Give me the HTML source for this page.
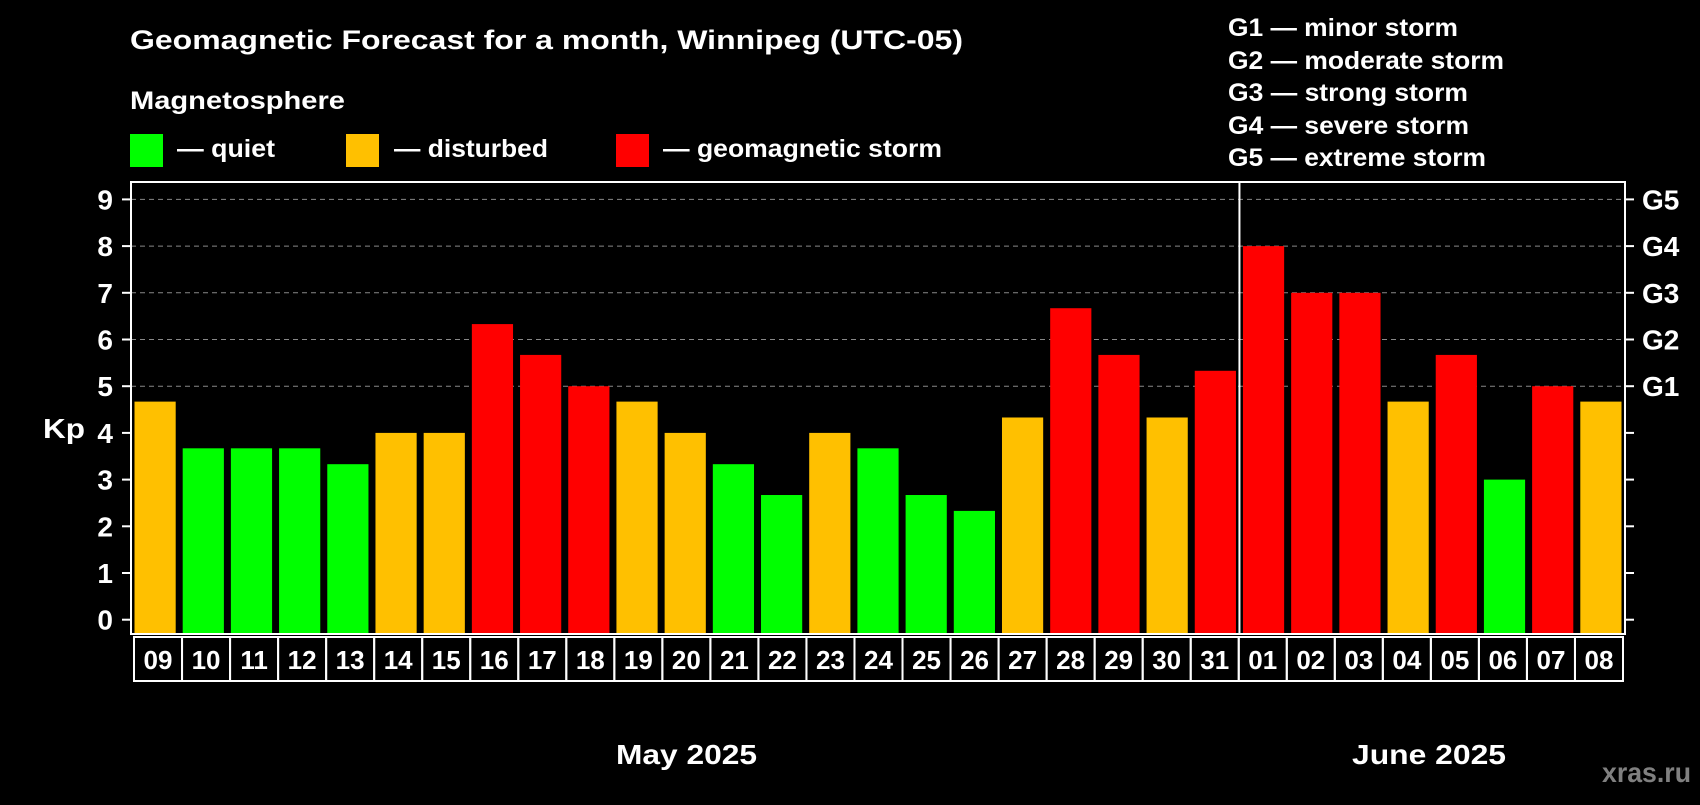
<!DOCTYPE html>
<html><head><meta charset="utf-8"><style>
html,body{margin:0;padding:0;background:#000;}
svg text{font-family:"Liberation Sans",Arial,sans-serif;font-weight:bold;fill:#fff;}
</style></head><body>
<svg id="chart" width="1700" height="800" xmlns="http://www.w3.org/2000/svg">
<rect width="1700" height="800" fill="#000"/>
<text x="130" y="49" font-size="27" textLength="833" lengthAdjust="spacingAndGlyphs">Geomagnetic Forecast for a month, Winnipeg (UTC-05)</text>
<text x="130" y="109" font-size="25" textLength="215" lengthAdjust="spacingAndGlyphs">Magnetosphere</text>
<g><rect x="130" y="134" width="33" height="33" fill="#00ff00"/><text x="177" y="157" font-size="25" textLength="98" lengthAdjust="spacingAndGlyphs">— quiet</text></g>
<g><rect x="346" y="134" width="33" height="33" fill="#ffc000"/><text x="394" y="157" font-size="25" textLength="154" lengthAdjust="spacingAndGlyphs">— disturbed</text></g>
<g><rect x="616" y="134" width="33" height="33" fill="#ff0000"/><text x="663" y="157" font-size="25" textLength="279" lengthAdjust="spacingAndGlyphs">— geomagnetic storm</text></g>
<g font-size="25">
<text x="1228" y="36" textLength="230" lengthAdjust="spacingAndGlyphs">G1 — minor storm</text>
<text x="1228" y="69" textLength="276" lengthAdjust="spacingAndGlyphs">G2 — moderate storm</text>
<text x="1228" y="101" textLength="240" lengthAdjust="spacingAndGlyphs">G3 — strong storm</text>
<text x="1228" y="134" textLength="241" lengthAdjust="spacingAndGlyphs">G4 — severe storm</text>
<text x="1228" y="166" textLength="258" lengthAdjust="spacingAndGlyphs">G5 — extreme storm</text>
</g>
<g id="grid"></g><g id="bars"></g><g id="axes"></g>
<text x="43" y="438" font-size="28" textLength="42" lengthAdjust="spacingAndGlyphs">Kp</text>
<text x="616" y="764" font-size="28" textLength="141" lengthAdjust="spacingAndGlyphs">May 2025</text>
<text x="1352" y="764" font-size="28" textLength="154" lengthAdjust="spacingAndGlyphs">June 2025</text>
<text x="1602" y="782" font-size="28" textLength="89" lengthAdjust="spacingAndGlyphs" style="fill:#808080">xras.ru</text>
</svg>
<script>
const days=["09","10","11","12","13","14","15","16","17","18","19","20","21","22","23","24","25","26","27","28","29","30","31","01","02","03","04","05","06","07","08"];
const kp=[4.67,3.67,3.67,3.67,3.33,4,4,6.33,5.67,5,4.67,4,3.33,2.67,4,3.67,2.67,2.33,4.33,6.67,5.67,4.33,5.33,8,7,7,4.67,5.67,3,5,4.67];
const yTicks=[0,1,2,3,4,5,6,7,8,9];
const gLabels=["G1","G2","G3","G4","G5"];
const gLevels=[5,6,7,8,9];
const monthSplitIndex=23;
const NS="http://www.w3.org/2000/svg";
const L=131,R=1625,T=182,B=634;
const slot=(R-L)/days.length;
const BL=134,BR=1623,bslot=(BR-BL)/days.length;
function y(v){return 619.7-46.7*v;}
function x(i){return L+i*slot;}
function mk(t,a,p){const e=document.createElementNS(NS,t);for(const k in a)e.setAttribute(k,a[k]);p.appendChild(e);return e;}
const grid=document.getElementById('grid'),bars=document.getElementById('bars'),axes=document.getElementById('axes');
yTicks.forEach(v=>{
 if(v>=5){const g=mk('line',{x1:L,x2:R,y1:y(v),y2:y(v),stroke:'#888','stroke-width':1,'stroke-dasharray':'5,4'},grid);
 
 }
 const t=mk('line',{x1:122,x2:L,y1:y(v),y2:y(v),stroke:'#fff','stroke-width':2},axes);
 
 
 const t2=mk('line',{x1:R,x2:1634,y1:y(v),y2:y(v),stroke:'#fff','stroke-width':2},axes);
 
 
 const lb=mk('text',{x:113,y:y(v)+10,'font-size':28,'text-anchor':'end'},axes);lb.textContent=v;
 
 
});
gLevels.forEach((v,i)=>{const lb=mk('text',{x:1642,y:y(v)+10,'font-size':28},axes);lb.textContent=gLabels[i];
 
 });
kp.forEach((v,i)=>{
 const c=v<4?'#00ff00':(v<5?'#ffc000':'#ff0000');
 const b=mk('rect',{x:x(i)+3.5,y:y(v),width:slot-7,height:B-y(v),fill:c},bars);
 
 
 const bx=mk('rect',{x:BL+i*bslot,y:637,width:bslot,height:44,fill:'none',stroke:'#fff','stroke-width':2},axes);
 
 
 const dl=mk('text',{x:BL+i*bslot+bslot/2,y:669,'font-size':26,'text-anchor':'middle'},axes);dl.textContent=days[i];
 
 
});
const fr=mk('rect',{x:L,y:T,width:R-L,height:B-T,fill:'none',stroke:'#fff','stroke-width':2},axes);


const sp=mk('line',{x1:x(monthSplitIndex),x2:x(monthSplitIndex),y1:T,y2:B,stroke:'#fff','stroke-width':2},axes);


</script>
</body></html>
